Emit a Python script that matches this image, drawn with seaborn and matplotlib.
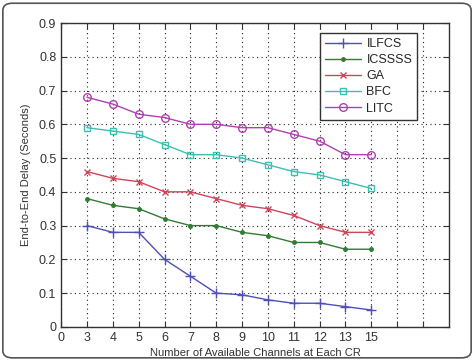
import matplotlib
matplotlib.use("Agg")
import matplotlib.pyplot as plt
import seaborn as sns
import pandas as pd
from matplotlib.patches import FancyBboxPatch

channels = [3, 4, 5, 6, 7, 8, 9, 10, 11, 12, 13, 15]
ilfcs = [0.30, 0.28, 0.28, 0.20, 0.15, 0.10, 0.095, 0.08, 0.07, 0.07, 0.06, 0.05]
icssss = [0.38, 0.36, 0.35, 0.32, 0.30, 0.30, 0.28, 0.27, 0.25, 0.25, 0.23, 0.23]
ga = [0.46, 0.44, 0.43, 0.40, 0.40, 0.38, 0.36, 0.35, 0.33, 0.30, 0.28, 0.28]
bfc = [0.59, 0.58, 0.57, 0.54, 0.51, 0.51, 0.50, 0.48, 0.46, 0.45, 0.43, 0.41]
litc = [0.68, 0.66, 0.63, 0.62, 0.60, 0.60, 0.59, 0.59, 0.57, 0.55, 0.51, 0.51]
series_names = ["ILFCS", "ICSSSS", "GA", "BFC", "LITC"]
xtick_labels = ["0"] + [str(c) for c in channels] + ["", ""]

sns.set_style("white")
plt.rcParams["font.family"] = ["Liberation Sans", "DejaVu Sans"]

fig = plt.figure(figsize=(4.74, 3.6), dpi=100)
ax = fig.add_axes([0.129, 0.092, 0.818, 0.844])

# rounded outer frame
frame = FancyBboxPatch((0.006, 0.006), 0.988, 0.985, boxstyle="round,pad=0,rounding_size=0.02",
                       transform=fig.transFigure, fill=False, edgecolor="#555555", linewidth=1.2)
fig.patches.append(frame)

styles = {
    "ILFCS": dict(color="#4f4fb8", marker="+", markersize=7, mfc="none"),
    "ICSSSS": dict(color="#2e7d32", marker=".", markersize=5),
    "GA": dict(color="#d0445a", marker="x", markersize=4),
    "BFC": dict(color="#3cc0b0", marker="s", markersize=5, mfc="none"),
    "LITC": dict(color="#b040b0", marker="o", markersize=5.5, mfc="none"),
}
values = [ilfcs, icssss, ga, bfc, litc]
pos = list(range(1, len(channels) + 1))
for name, vals in zip(series_names, values):
    st = styles[name]
    df = pd.DataFrame({"pos": pos, "delay": vals})
    sns.lineplot(data=df, x="pos", y="delay", ax=ax, color=st["color"], linewidth=1.0,
                 marker=st["marker"], markersize=st["markersize"],
                 markerfacecolor=st.get("mfc", st["color"]), markeredgecolor=st["color"],
                 markeredgewidth=1.0, label=name)

ax.set_xlim(0, 15)
ax.set_ylim(0, 0.9)
ax.set_xticks(range(0, 15))
ax.set_xticklabels(xtick_labels)
ax.set_yticks([i / 10 for i in range(10)])
ax.set_yticklabels(["0"] + [f"{i/10:.1f}" for i in range(1, 10)])
ax.tick_params(axis="both", labelsize=9, colors="#333333", direction="in", length=4,
               top=True, right=True, bottom=True, left=True)
for lbl in ax.get_xticklabels() + ax.get_yticklabels():
    lbl.set_color("#333333")
ax.grid(True, linestyle=(0, (1, 3)), color="#222222", linewidth=0.8)
for sp in ax.spines.values():
    sp.set_color("#333333")
    sp.set_linewidth(1.0)
ax.set_xlabel("Number of Available Channels at Each CR", fontsize=8, color="#333333", labelpad=3)
ax.set_ylabel("End-to-End Delay (Seconds)", fontsize=8, color="#333333", labelpad=6)

leg = ax.legend(loc="upper left", bbox_to_anchor=(0.668, 0.967), borderaxespad=0, fontsize=9,
                frameon=True, fancybox=False, borderpad=0.4, labelspacing=0.33,
                handlelength=2.9, handletextpad=0.4)
leg.get_frame().set_edgecolor("#333333")
leg.get_frame().set_linewidth(1.0)
leg.get_frame().set_alpha(1)

fig.savefig("out.png", dpi=100)
